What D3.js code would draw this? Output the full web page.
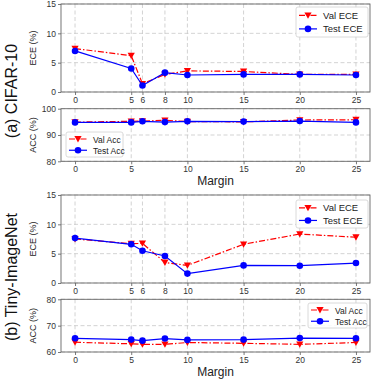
<!DOCTYPE html>
<html>
<head>
<meta charset="utf-8">
<script src="https://cdn.jsdelivr.net/npm/d3@7"></script>
<style>
  body { margin: 0; background: #fff; }
  svg { font-family: "Liberation Sans", Arial, sans-serif; }
</style>
</head>
<body>
<div id="chart"></div>
<script>
// margins on the x axis
const margins = [0, 5, 6, 8, 10, 15, 20, 25];
const eceTicks = [0, 5, 6, 8, 10, 15, 20, 25];
const accTicks = [0, 5, 10, 15, 20, 25];

// CIFAR-10
const cifarValEce = [7.4, 6.2, 1.4, 3.0, 3.6, 3.5, 3.0, 3.0];
const cifarTestEce = [7.0, 4.0, 1.1, 3.3, 2.9, 3.0, 3.0, 2.9];
const cifarValAcc = [94.9, 95.2, 95.3, 95.6, 95.1, 95.0, 95.7, 95.8];
const cifarTestAcc = [94.8, 94.8, 95.2, 94.9, 95.2, 95.1, 95.3, 94.8];

// Tiny-ImageNet
const tinyValEce = [7.5, 6.7, 6.75, 3.5, 3.0, 6.6, 8.35, 7.8];
const tinyTestEce = [7.65, 6.6, 5.5, 4.6, 1.6, 3.0, 2.95, 3.4];
const tinyValAcc = [63.7, 63.1, 62.9, 62.9, 63.6, 63.3, 62.9, 63.6];
const tinyTestAcc = [65.2, 64.7, 64.3, 65.1, 64.6, 64.7, 65.3, 65.2];

const width = 374, height = 382;
const svg = d3.select('#chart').append('svg')
    .attr('width', width)
    .attr('height', height);

const x = d3.scaleLinear().domain([-1.25, 26.25]).range([61, 370]);

const red = '#ff0000', blue = '#0000ff';
const valStyle = {color: red, dash: '6,2,1.5,2', marker: 'tri'};
const testStyle = {color: blue, dash: null, marker: 'circle'};

const panels = [
    {top: 4, bottom: 92, domain: [0, 15], yticks: [0, 5, 10, 15], xticks: eceTicks, ylabel: 'ECE (%)',
     series: [[cifarValEce, valStyle, 'Val ECE'], [cifarTestEce, testStyle, 'Test ECE']],
     legend: {x: 296, y: 7, w: 72, h: 30}, xlabel: false},
    {top: 108.7, bottom: 161.3, domain: [80, 100], yticks: [80, 90, 100], xticks: accTicks, ylabel: 'ACC (%)',
     series: [[cifarValAcc, valStyle, 'Val Acc'], [cifarTestAcc, testStyle, 'Test Acc']],
     legend: {x: 66, y: 132, w: 57, h: 25}, xlabel: true},
    {top: 195, bottom: 283, domain: [0, 15], yticks: [0, 5, 10, 15], xticks: eceTicks, ylabel: 'ECE (%)',
     series: [[tinyValEce, valStyle, 'Val ECE'], [tinyTestEce, testStyle, 'Test ECE']],
     legend: {x: 296, y: 200, w: 72, h: 28}, xlabel: false},
    {top: 299.3, bottom: 352, domain: [60, 80], yticks: [60, 70, 80], xticks: accTicks, ylabel: 'ACC (%)',
     series: [[tinyValAcc, valStyle, 'Val Acc'], [tinyTestAcc, testStyle, 'Test Acc']],
     legend: {x: 308, y: 303, w: 59, h: 25}, xlabel: true}
];

function drawMarker(g, type, cx, cy, color) {
    if (type === 'tri') {
        const s = 3.6;
        g.append('path')
            .attr('d', `M${cx - s},${cy - s * 0.8}L${cx + s},${cy - s * 0.8}L${cx},${cy + s * 0.95}Z`)
            .attr('fill', color);
    } else {
        g.append('circle').attr('cx', cx).attr('cy', cy).attr('r', 3.3).attr('fill', color);
    }
}

panels.forEach((p) => {
    const y = d3.scaleLinear().domain(p.domain).range([p.bottom, p.top]);
    const g = svg.append('g');
    const [x0, x1] = x.range();

    // grid
    g.append('g').selectAll('line').data(p.xticks).join('line')
        .attr('x1', d => x(d)).attr('x2', d => x(d))
        .attr('y1', p.top).attr('y2', p.bottom)
        .attr('stroke', '#c8c8c8').attr('stroke-width', 0.8).attr('stroke-dasharray', '4,2.5');
    g.append('g').selectAll('line').data(p.yticks).join('line')
        .attr('x1', x0).attr('x2', x1)
        .attr('y1', d => y(d)).attr('y2', d => y(d))
        .attr('stroke', '#c8c8c8').attr('stroke-width', 0.8).attr('stroke-dasharray', '4,2.5');

    // axes
    const xAxis = g.append('g').attr('transform', `translate(0,${p.bottom})`)
        .call(d3.axisBottom(x).tickValues(p.xticks).tickSize(3).tickPadding(2).tickFormat(d3.format('d')));
    const yAxis = g.append('g').attr('transform', `translate(${x0},0)`)
        .call(d3.axisLeft(y).tickValues(p.yticks).tickSize(3).tickPadding(2).tickFormat(d3.format('d')));
    [xAxis, yAxis].forEach(a => {
        a.select('.domain').remove();
        a.selectAll('line').attr('stroke', '#555').attr('stroke-width', 0.8);
        a.selectAll('text').attr('fill', '#333').style('font-size', '8.5px');
    });

    // lines and markers
    p.series.forEach(([vals, st]) => {
        const line = d3.line().x((d, i) => x(margins[i])).y(d => y(d));
        g.append('path').datum(vals)
            .attr('d', line)
            .attr('fill', 'none')
            .attr('stroke', st.color)
            .attr('stroke-width', 1.2)
            .attr('stroke-dasharray', st.dash);
        vals.forEach((v, i) => drawMarker(g, st.marker, x(margins[i]), y(v), st.color));
    });

    // frame
    g.append('rect')
        .attr('x', x0).attr('y', p.top)
        .attr('width', x1 - x0).attr('height', p.bottom - p.top)
        .attr('fill', 'none').attr('stroke', '#666').attr('stroke-width', 0.9);

    // y label
    g.append('text')
        .attr('transform', `translate(36,${(p.top + p.bottom) / 2}) rotate(-90)`)
        .attr('text-anchor', 'middle')
        .style('font-size', '9px')
        .attr('fill', '#222')
        .text(p.ylabel);

    if (p.xlabel) {
        g.append('text')
            .attr('x', (x0 + x1) / 2).attr('y', p.bottom + 24)
            .attr('text-anchor', 'middle')
            .style('font-size', '12px')
            .attr('fill', '#222')
            .text('Margin');
    }

    // legend
    const L = p.legend;
    const lg = g.append('g');
    lg.append('rect')
        .attr('x', L.x).attr('y', L.y).attr('width', L.w).attr('height', L.h)
        .attr('rx', 2)
        .attr('fill', 'rgba(255,255,255,0.85)')
        .attr('stroke', '#d0d0d0').attr('stroke-width', 0.8);
    p.series.forEach(([vals, st, name], i) => {
        const cy = L.y + L.h * (i === 0 ? 0.28 : 0.73);
        lg.append('line')
            .attr('x1', L.x + 3).attr('x2', L.x + 21)
            .attr('y1', cy).attr('y2', cy)
            .attr('stroke', st.color).attr('stroke-width', 1.2)
            .attr('stroke-dasharray', st.dash);
        drawMarker(lg, st.marker, L.x + 12, cy, st.color);
        lg.append('text')
            .attr('x', L.x + 27).attr('y', cy + 3.5)
            .style('font-size', L.w > 65 ? '9.5px' : '8.5px')
            .attr('fill', '#222')
            .text(name);
    });
});

// dataset labels
const dsLabels = [['(a) CIFAR-10', 91], ['(b) Tiny-ImageNet', 277]];
dsLabels.forEach(([t, cy]) => {
    svg.append('text')
        .attr('transform', `translate(17,${cy}) rotate(-90)`)
        .attr('text-anchor', 'middle')
        .style('font-size', '16px')
        .attr('fill', '#111')
        .text(t);
});
</script>
</body>
</html>
